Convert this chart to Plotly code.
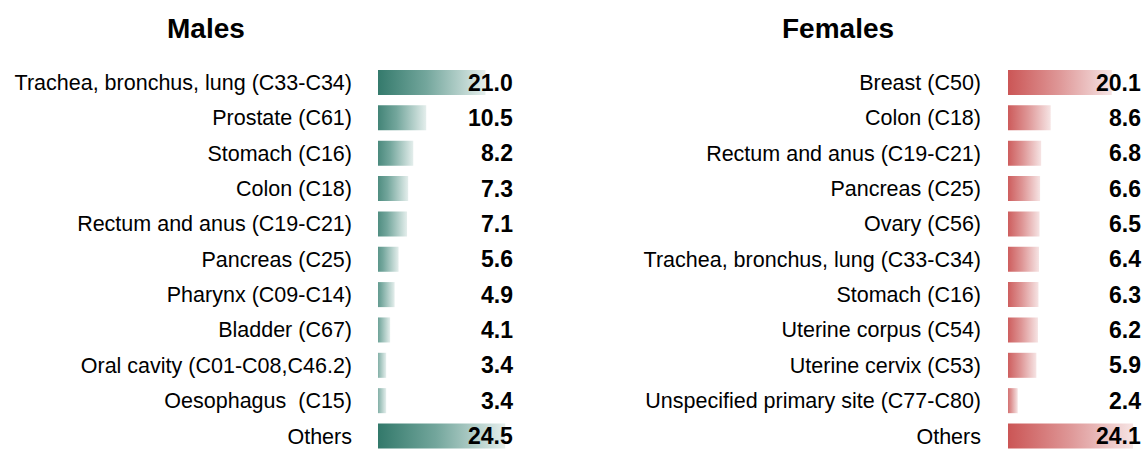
import plotly.graph_objects as go

# ---- data ----
male_sites = [
    "Trachea, bronchus, lung (C33-C34)", "Prostate (C61)", "Stomach (C16)",
    "Colon (C18)", "Rectum and anus (C19-C21)", "Pancreas (C25)",
    "Pharynx (C09-C14)", "Bladder (C67)", "Oral cavity (C01-C08,C46.2)",
    "Oesophagus\u00a0 (C15)", "Others",
]
male_values = [21.0, 10.5, 8.2, 7.3, 7.1, 5.6, 4.9, 4.1, 3.4, 3.4, 24.5]

female_sites = [
    "Breast (C50)", "Colon (C18)", "Rectum and anus (C19-C21)", "Pancreas (C25)",
    "Ovary (C56)", "Trachea, bronchus, lung (C33-C34)", "Stomach (C16)",
    "Uterine corpus (C54)", "Uterine cervix (C53)",
    "Unspecified primary site (C77-C80)", "Others",
]
female_values = [20.1, 8.6, 6.8, 6.6, 6.5, 6.4, 6.3, 6.2, 5.9, 2.4, 24.1]

titles = ["Males", "Females"]

# ---- style ----
FONT = "Liberation Sans, Arial, Helvetica, sans-serif"
male_scale = [[0, "rgb(38,112,97)"], [0.5, "rgb(115,166,156)"], [1, "rgb(228,238,236)"]]
female_scale = [[0, "rgb(202,82,82)"], [0.5, "rgb(222,150,150)"], [1, "rgb(246,228,228)"]]
HALF = 0.354  # half bar thickness in category units

fig = go.Figure()


def add_bars(values, xa, ya, scale):
    for i, v in enumerate(values):
        fig.add_trace(go.Scatter(
            x=[0, v, v, 0, 0],
            y=[i - HALF, i - HALF, i + HALF, i + HALF, i - HALF],
            mode="lines", fill="toself",
            line=dict(width=0, color="rgba(0,0,0,0)"),
            fillgradient=dict(type="horizontal", colorscale=scale),
            xaxis=xa, yaxis=ya, showlegend=False, hoverinfo="skip",
        ))


add_bars(male_values, "x", "y", male_scale)
add_bars(female_values, "x2", "y2", female_scale)

annotations = []
for vals, xr, yr in [(male_values, "x domain", "y"), (female_values, "x2 domain", "y2")]:
    for i, v in enumerate(vals):
        annotations.append(dict(
            x=1, xref=xr, y=i, yref=yr, text=f"<b>{v:.1f}</b>",
            showarrow=False, xanchor="right", yanchor="middle",
            font=dict(family=FONT, size=23, color="black"),
        ))

for t, xc in zip(titles, [206 / 1146, 838 / 1146]):
    annotations.append(dict(
        x=xc, xref="paper", y=1 - 29 / 450, yref="paper", text=f"<b>{t}</b>",
        showarrow=False, xanchor="center", yanchor="middle",
        font=dict(family=FONT, size=28, color="black"),
    ))

yrange = [10.396, -2.334]
xcommon = dict(showgrid=False, zeroline=False, showticklabels=False, showline=False, ticks="")
ycommon = dict(showgrid=False, zeroline=False, showline=False, ticks="",
               tickmode="array", tickvals=list(range(11)), range=yrange, automargin=False,
               tickfont=dict(family=FONT, size=21.5, color="black"))

fig.update_layout(
    width=1146, height=450,
    margin=dict(l=0, r=0, t=0, b=0),
    paper_bgcolor="white", plot_bgcolor="white",
    showlegend=False,
    xaxis=dict(domain=[378 / 1146, 515 / 1146], range=[1.95, 26.24], automargin=False, **xcommon),
    xaxis2=dict(domain=[1008 / 1146, 1143 / 1146], range=[0.56, 25.98], automargin=False, **xcommon),
    yaxis=dict(anchor="x", ticktext=male_sites, ticklabelstandoff=25, **ycommon),
    yaxis2=dict(anchor="x2", ticktext=female_sites, ticklabelstandoff=26, **ycommon),
    annotations=annotations,
)

fig.write_html(
    "out.html",
    config={"displayModeBar": False},
    post_script="document.body.style.margin='0';document.body.style.padding='0';",
)
